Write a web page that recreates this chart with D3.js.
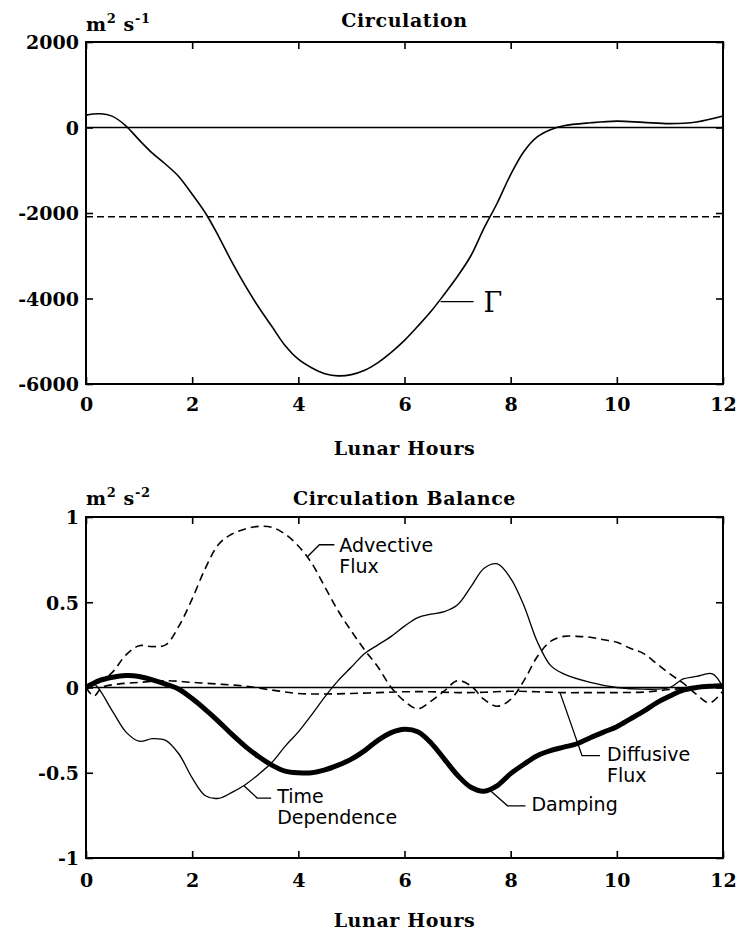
<!DOCTYPE html>
<html>
<head>
<meta charset="utf-8">
<script src="https://cdn.jsdelivr.net/npm/d3@7/dist/d3.min.js"></script>
<style>
  body { margin: 0; background: #fff; }
  .tick text { font-family: "DejaVu Serif", serif; font-weight: bold; font-size: 19px; fill: #000; }
  .tick line { stroke: #000; stroke-width: 1.6; }
  .domain { display: none; }
  .serif { font-family: "DejaVu Serif", serif; font-weight: bold; font-size: 19px; letter-spacing: 0.6px; }
  .lbl { font-family: "DejaVu Sans", sans-serif; font-size: 19px; }
</style>
</head>
<body>
<div id="chart"></div>
<script>
// x axis, shared by both panels
var hourTicks = [0, 2, 4, 6, 8, 10, 12]

// Top panel: circulation, m2 s-1
var gammaHours = [0, 0.25, 0.5, 0.75, 1, 1.25, 1.5, 1.75, 2, 2.25, 2.5, 2.75, 3, 3.25, 3.5, 3.75, 4, 4.25, 4.5, 4.75,
  5, 5.25, 5.5, 5.75, 6, 6.25, 6.5, 6.75, 7, 7.25, 7.5, 7.75, 8, 8.25, 8.5, 8.75, 9, 9.5, 10, 10.5, 11, 11.5, 12]
var gamma = [290, 320, 260, 40, -290, -600, -860, -1150, -1560, -2000, -2550, -3150, -3700, -4200, -4650, -5100, -5420, -5620, -5760, -5810,
  -5780, -5680, -5500, -5260, -4980, -4650, -4300, -3900, -3480, -3000, -2350, -1760, -1100, -560, -220, -50, 40, 110, 150, 120, 90, 130, 270]
var gammaMean = -2090
var gammaTicks = [2000, 0, -2000, -4000, -6000]

// Bottom panel: circulation balance, m2 s-2
var advHours = [0, 0.25, 0.5, 0.75, 1, 1.25, 1.5, 1.75, 2, 2.25, 2.5, 2.75, 3, 3.25, 3.5, 3.75, 4, 4.25, 4.5, 4.75,
  5, 5.25, 5.5, 5.75, 6, 6.25, 6.5, 6.75, 7, 7.25, 7.5, 7.75, 8, 8.25, 8.5, 8.75, 9, 9.25, 9.5, 9.75,
  10, 10.25, 10.5, 10.75, 11, 11.25, 11.5, 11.75, 12]
var advFlux = [0, 0.03, 0.09, 0.19, 0.245, 0.24, 0.25, 0.36, 0.52, 0.7, 0.84, 0.9, 0.93, 0.945, 0.94, 0.9, 0.83, 0.73, 0.59, 0.45,
  0.33, 0.22, 0.12, 0, -0.08, -0.125, -0.08, -0.02, 0.04, 0.01, -0.07, -0.11, -0.07, 0.04, 0.18, 0.27, 0.3, 0.3, 0.295, 0.28,
  0.265, 0.23, 0.2, 0.14, 0.08, 0.025, -0.04, -0.09, -0.02]

var tdHours = [0, 0.15, 0.5, 0.75, 1, 1.25, 1.5, 1.75, 2, 2.25, 2.5, 2.75, 3, 3.25, 3.5, 3.75, 4, 4.25, 4.5, 4.75,
  5, 5.25, 5.5, 5.75, 6, 6.25, 6.5, 6.75, 7, 7.25, 7.5, 7.75, 8, 8.25, 8.5, 8.75, 9, 9.5, 10, 10.5, 11, 11.25, 11.5, 11.8, 12]
var timeDep = [0, 0.02, -0.14, -0.26, -0.315, -0.3, -0.31, -0.39, -0.53, -0.635, -0.65, -0.615, -0.57, -0.51, -0.44, -0.345, -0.26, -0.16, -0.055, 0.04,
  0.12, 0.2, 0.25, 0.3, 0.36, 0.41, 0.43, 0.445, 0.485, 0.59, 0.7, 0.725, 0.64, 0.48, 0.27, 0.13, 0.08, 0.03, 0, -0.01, 0, 0.05, 0.065, 0.08, 0]

var dampHours = [0, 0.25, 0.5, 0.75, 1, 1.25, 1.5, 1.75, 2, 2.25, 2.5, 2.75, 3, 3.25, 3.5, 3.75, 4, 4.25, 4.5, 4.75,
  5, 5.25, 5.5, 5.75, 6, 6.25, 6.5, 6.75, 7, 7.25, 7.5, 7.75, 8, 8.25, 8.5, 8.75, 9, 9.25, 9.5, 9.75,
  10, 10.25, 10.5, 10.75, 11, 11.25, 11.5, 11.75, 12]
var damping = [0, 0.04, 0.06, 0.07, 0.065, 0.045, 0.02, -0.01, -0.065, -0.13, -0.2, -0.275, -0.345, -0.405, -0.455, -0.49, -0.5, -0.5, -0.483, -0.455,
  -0.42, -0.37, -0.31, -0.265, -0.245, -0.26, -0.325, -0.42, -0.515, -0.585, -0.608, -0.575, -0.505, -0.45, -0.4, -0.37, -0.35, -0.33, -0.295, -0.262,
  -0.23, -0.185, -0.14, -0.09, -0.05, -0.015, 0, 0.007, 0.01]

var difHours = [0, 0.15, 0.3, 0.6, 1, 1.5, 2, 2.5, 3, 3.5, 4, 4.5, 5, 5.5, 6, 6.5, 7, 7.5, 8, 8.5, 9, 9.5, 10, 10.5, 11, 11.5, 12]
var difFlux = [0, -0.05, 0, 0.02, 0.03, 0.04, 0.03, 0.02, 0.008, -0.015, -0.035, -0.038, -0.035, -0.03, -0.025, -0.025, -0.03, -0.028, -0.022, -0.025,
  -0.03, -0.03, -0.03, -0.027, -0.012, 0, 0.005]

var balanceTicks = [1, 0.5, 0, -0.5, -1]

var width = 739
var height = 936

var svg = d3.select("#chart")
  .append("svg")
  .attr("width", width)
  .attr("height", height)
  .style("background", "#fff")

var xScale = d3.scaleLinear()
  .domain([0, 12])
  .range([86, 723])

var yTop = d3.scaleLinear()
  .domain([-6000, 2000])
  .range([384, 42])

var yBot = d3.scaleLinear()
  .domain([-1, 1])
  .range([858, 517])

function pairs(hours, vals) {
  return hours.map(function(h, i) { return [h, vals[i]] })
}

// frame, ticks on all four sides pointing inward, zero line
function drawPanel(yScale, yTicks, labelPad) {
  var g = svg.append("g")
  var x0 = xScale.range()[0], x1 = xScale.range()[1]
  var yb = yScale.range()[0], yt = yScale.range()[1]

  g.append("g")
    .attr("class", "x-axis")
    .attr("transform", `translate(0,${yb})`)
    .call(d3.axisBottom(xScale).tickValues(hourTicks).tickSize(-7).tickSizeOuter(0).tickPadding(labelPad))
  g.append("g")
    .attr("transform", `translate(0,${yt})`)
    .call(d3.axisTop(xScale).tickValues(hourTicks).tickSize(-7).tickSizeOuter(0).tickFormat(""))
  g.append("g")
    .attr("class", "y-axis")
    .attr("transform", `translate(${x0},0)`)
    .call(d3.axisLeft(yScale).tickValues(yTicks).tickSize(-7).tickSizeOuter(0).tickPadding(7)
      .tickFormat(d => String(d)))
  g.append("g")
    .attr("transform", `translate(${x1},0)`)
    .call(d3.axisRight(yScale).tickValues(yTicks).tickSize(-7).tickSizeOuter(0).tickFormat(""))

  g.selectAll(".x-axis .tick text").attr("dy", "0.76em")
  g.selectAll(".y-axis .tick text").attr("dy", "0.36em")

  g.append("line")
    .attr("x1", x0).attr("x2", x1)
    .attr("y1", yScale(0)).attr("y2", yScale(0))
    .style("stroke", "#000")
    .style("stroke-width", 1.4)

  g.append("rect")
    .attr("x", x0).attr("y", yt)
    .attr("width", x1 - x0).attr("height", yb - yt)
    .style("fill", "none")
    .style("stroke", "#000")
    .style("stroke-width", 2)
  return g
}

drawPanel(yTop, gammaTicks, 13)
drawPanel(yBot, balanceTicks, 15)

var line = function(yScale) {
  return d3.line()
    .x(d => xScale(d[0]))
    .y(d => yScale(d[1]))
    .curve(d3.curveCatmullRom.alpha(0.5))
}

// Top panel marks
svg.append("line")
  .attr("x1", xScale(0)).attr("x2", xScale(12))
  .attr("y1", yTop(gammaMean)).attr("y2", yTop(gammaMean))
  .style("stroke", "#000")
  .style("stroke-width", 1.5)
  .style("stroke-dasharray", "7,4")

svg.append("path")
  .datum(pairs(gammaHours, gamma))
  .attr("d", line(yTop))
  .style("fill", "none")
  .style("stroke", "#000")
  .style("stroke-width", 1.6)

// Bottom panel marks
svg.append("path")
  .datum(pairs(difHours, difFlux))
  .attr("d", line(yBot))
  .style("fill", "none")
  .style("stroke", "#000")
  .style("stroke-width", 1.6)
  .style("stroke-dasharray", "8,5")

svg.append("path")
  .datum(pairs(advHours, advFlux))
  .attr("d", line(yBot))
  .style("fill", "none")
  .style("stroke", "#000")
  .style("stroke-width", 1.6)
  .style("stroke-dasharray", "8,5")

svg.append("path")
  .datum(pairs(tdHours, timeDep))
  .attr("d", line(yBot))
  .style("fill", "none")
  .style("stroke", "#000")
  .style("stroke-width", 1.3)

svg.append("path")
  .datum(pairs(dampHours, damping))
  .attr("d", line(yBot))
  .style("fill", "none")
  .style("stroke", "#000")
  .style("stroke-width", 5)
  .style("stroke-linejoin", "round")

// Curve labels with leader lines: anchor on the curve, elbow offset, text offset
var curveLabels = [
  { lines: ["Advective", "Flux"], hour: 4.17, value: 0.767, elbow: [12, -12], end: 27, text: [32, 7] },
  { lines: ["Time", "Dependence"], hour: 2.98, value: -0.578, elbow: [13, 12], end: 27, text: [33, 5] },
  { lines: ["Damping"], hour: 7.62, value: -0.606, elbow: [17, 15], end: 35, text: [41, 5] },
  { lines: ["Diffusive", "Flux"], hour: 8.93, value: -0.03, elbow: [22, 63], end: 40, text: [47, 5] }
]

curveLabels.forEach(function(d) {
  var ax = xScale(d.hour), ay = yBot(d.value)
  var ex = ax + d.elbow[0], ey = ay + d.elbow[1]
  svg.append("path")
    .attr("d", `M${ax},${ay}L${ex},${ey}L${ax + d.end},${ey}`)
    .style("fill", "none")
    .style("stroke", "#000")
    .style("stroke-width", 1.3)
  var t = svg.append("text")
    .attr("class", "lbl")
    .attr("x", ax + d.text[0])
    .attr("y", ey + d.text[1])
  d.lines.forEach(function(s, i) {
    t.append("tspan")
      .attr("x", ax + d.text[0])
      .attr("dy", i === 0 ? 0 : 21)
      .text(s)
  })
})

// Gamma label
var gx = xScale(6.68), gy = yTop(-4074)
svg.append("line")
  .attr("x1", gx).attr("x2", gx + 33)
  .attr("y1", gy).attr("y2", gy)
  .style("stroke", "#000")
  .style("stroke-width", 1.3)
svg.append("text")
  .attr("x", gx + 43)
  .attr("y", gy + 10)
  .style("font-family", "DejaVu Serif, serif")
  .style("font-size", "27px")
  .text("Γ")

// Titles, units and axis titles
var midX = (xScale(0) + xScale(12)) / 2

function units(y, exp) {
  var t = svg.append("text")
    .attr("class", "serif")
    .attr("x", 86)
    .attr("y", y)
  t.append("tspan").text("m")
  t.append("tspan").attr("dy", -8).style("font-size", "13px").text("2")
  t.append("tspan").attr("dy", 8).text(" s")
  t.append("tspan").attr("dy", -8).style("font-size", "13px").text(exp)
}

units(31, "-1")
units(505, "-2")

svg.append("text")
  .attr("class", "serif")
  .attr("x", midX)
  .attr("y", 27)
  .attr("text-anchor", "middle")
  .text("Circulation")

svg.append("text")
  .attr("class", "serif")
  .attr("x", midX)
  .attr("y", 505)
  .attr("text-anchor", "middle")
  .text("Circulation Balance")

svg.append("text")
  .attr("class", "serif")
  .attr("x", midX)
  .attr("y", 455)
  .attr("text-anchor", "middle")
  .text("Lunar Hours")

svg.append("text")
  .attr("class", "serif")
  .attr("x", midX)
  .attr("y", 927)
  .attr("text-anchor", "middle")
  .text("Lunar Hours")
</script>
</body>
</html>
